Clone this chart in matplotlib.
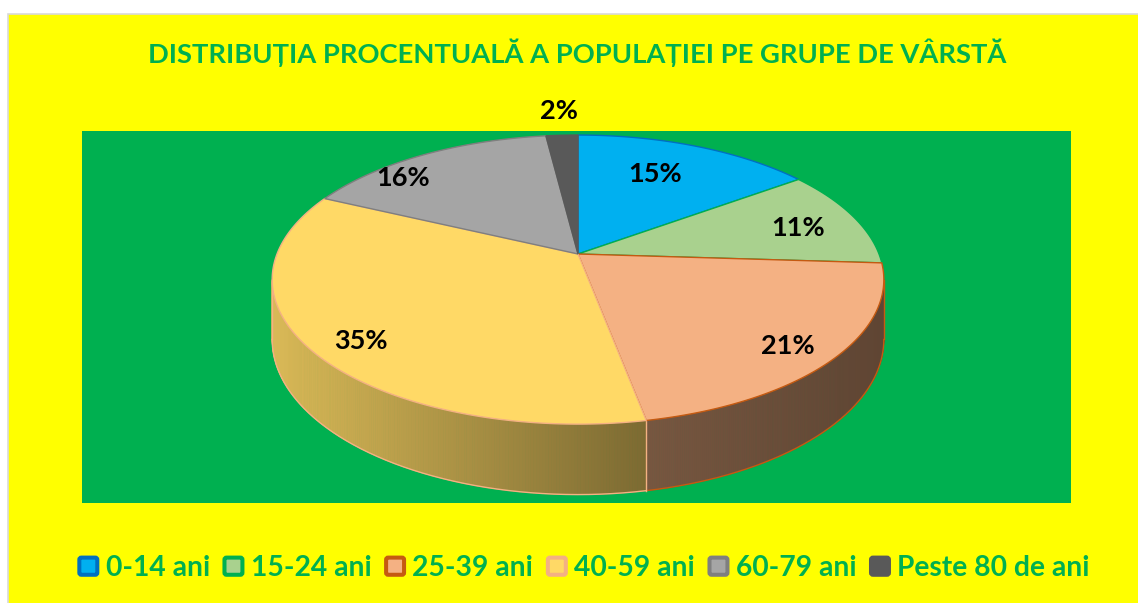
import numpy as np
import matplotlib.pyplot as plt
from matplotlib.colors import to_rgb
from matplotlib.patches import Rectangle, Polygon, FancyBboxPatch, Patch
from matplotlib.collections import PolyCollection
from matplotlib.legend_handler import HandlerPatch

# data
categories = ['0-14 ani', '15-24 ani', '25-39 ani', '40-59 ani', '60-79 ani', 'Peste 80 de ani']
values = [15, 11, 21, 35, 16, 2]
title = 'DISTRIBUȚIA PROCENTUALĂ A POPULAȚIEI PE GRUPE DE VÂRSTĂ'

# styles
top_colors = ['#00B0F0', '#A9D18E', '#F4B183', '#FFD966', '#A5A5A5', '#595959']
edge_colors = ['#0070C0', '#00B050', '#C55A11', '#F4B183', '#7F7F7F', '#595959']
green = '#00B050'
font = 'Lato'

# label placement (angle shift in degrees, radius factor)
label_shift = [-3, 2, 2, -3, -11, 0]
label_r = [0.70, 0.78, 0.86, 0.86, 0.88, 1.25]

# pie geometry in pixels (perspective projection of a tilted disc)
cx, cy = 578, 254
s, sk, p = 301, 140, 0.177
H = 58


def proj(phi, k=1.0, drop=0.0):
    ph = np.radians(phi)
    w = 1 + p * k * np.cos(ph)
    x = cx + s * k * np.sin(ph) / w
    y = cy - sk * k * np.cos(ph) / w + drop / w
    return x, y


def shade(x):
    return np.interp(x, [275, 645, 880], [0.85, 0.49, 0.39])


fig = plt.figure(figsize=(11.38, 6.03), dpi=100)
fig.patch.set_facecolor('white')
ax = fig.add_axes([0, 0, 1, 1])
ax.set_xlim(0, 1138)
ax.set_ylim(603, 0)
ax.axis('off')

# chart area and plot area
ax.add_patch(Rectangle((8.5, 13.5), 1140, 600, facecolor='#FFFF00', edgecolor='#D9D9D9', lw=1.2, zorder=0))
ax.add_patch(Rectangle((82, 131), 1071 - 82, 503 - 131, facecolor=green, edgecolor='none', zorder=1))

total = sum(values)
bounds = np.concatenate([[0], np.cumsum(values)]) / total * 360
phi_r = np.degrees(np.arccos(-p))
phi_l = 360 - phi_r

# side faces
for i in range(len(values)):
    a0, a1 = max(bounds[i], phi_r), min(bounds[i + 1], phi_l)
    if a1 <= a0:
        continue
    ph = np.linspace(a0, a1, 200)
    xt, yt = proj(ph)
    xb, yb = proj(ph, drop=H)
    base = np.array(to_rgb(top_colors[i]))
    polys, cols = [], []
    for j in range(len(ph) - 1):
        polys.append([(xt[j], yt[j]), (xt[j + 1], yt[j + 1]), (xb[j + 1], yb[j + 1]), (xb[j], yb[j])])
        cols.append(np.clip(base * shade((xt[j] + xt[j + 1]) / 2), 0, 1))
    ax.add_collection(PolyCollection(polys, facecolors=cols, edgecolors=cols, linewidths=0.6, zorder=2))
    ax.plot(xb, yb, color=edge_colors[i], lw=1, zorder=2.5)
    ax.plot([xt[0], xb[0]], [yt[0], yb[0]], color=edge_colors[i], lw=1, zorder=2.5)
    if a1 == phi_l:
        ax.plot([xt[-1], xb[-1]], [yt[-1], yb[-1]], color=edge_colors[i], lw=1, zorder=2.5)

# top faces
for i in range(len(values)):
    ph = np.linspace(bounds[i], bounds[i + 1], 200)
    x, y = proj(ph)
    pts = [(cx, cy)] + list(zip(x, y))
    ax.add_patch(Polygon(pts, closed=True, facecolor=top_colors[i], edgecolor=edge_colors[i], lw=1, zorder=3))

# data labels
for i, v in enumerate(values):
    mid = (bounds[i] + bounds[i + 1]) / 2 + label_shift[i]
    lx, ly = proj(mid, k=label_r[i])
    ax.text(lx, ly, f'{v}%', ha='center', va='center', fontsize=19.5, fontweight='bold',
            family=font, color='black', zorder=4)

ax.text(577, 53, title, ha='center', va='center', fontsize=19.7, fontweight='bold',
        family=font, color=green)


def round_square(legend, orig_handle, xdescent, ydescent, width, height, fontsize):
    lw = 2.9
    return FancyBboxPatch((-xdescent + lw / 2, -ydescent + lw / 2), width - lw, height - lw,
                          boxstyle='round,pad=0,rounding_size=1.5')


handles = [Patch(facecolor=top_colors[i], edgecolor=edge_colors[i], lw=2.9) for i in range(len(values))]
leg = ax.legend(handles, categories, loc='center', bbox_to_anchor=(583.5, 568), bbox_transform=ax.transData,
                ncol=6, frameon=False, handlelength=0.78, handleheight=0.78, handletextpad=0.22,
                columnspacing=0.45, borderpad=0, borderaxespad=0,
                prop={'family': font, 'weight': 'bold', 'size': 20.3}, labelcolor=green,
                handler_map={Patch: HandlerPatch(patch_func=round_square)})

fig.savefig('out.png', dpi=100, facecolor='white')
